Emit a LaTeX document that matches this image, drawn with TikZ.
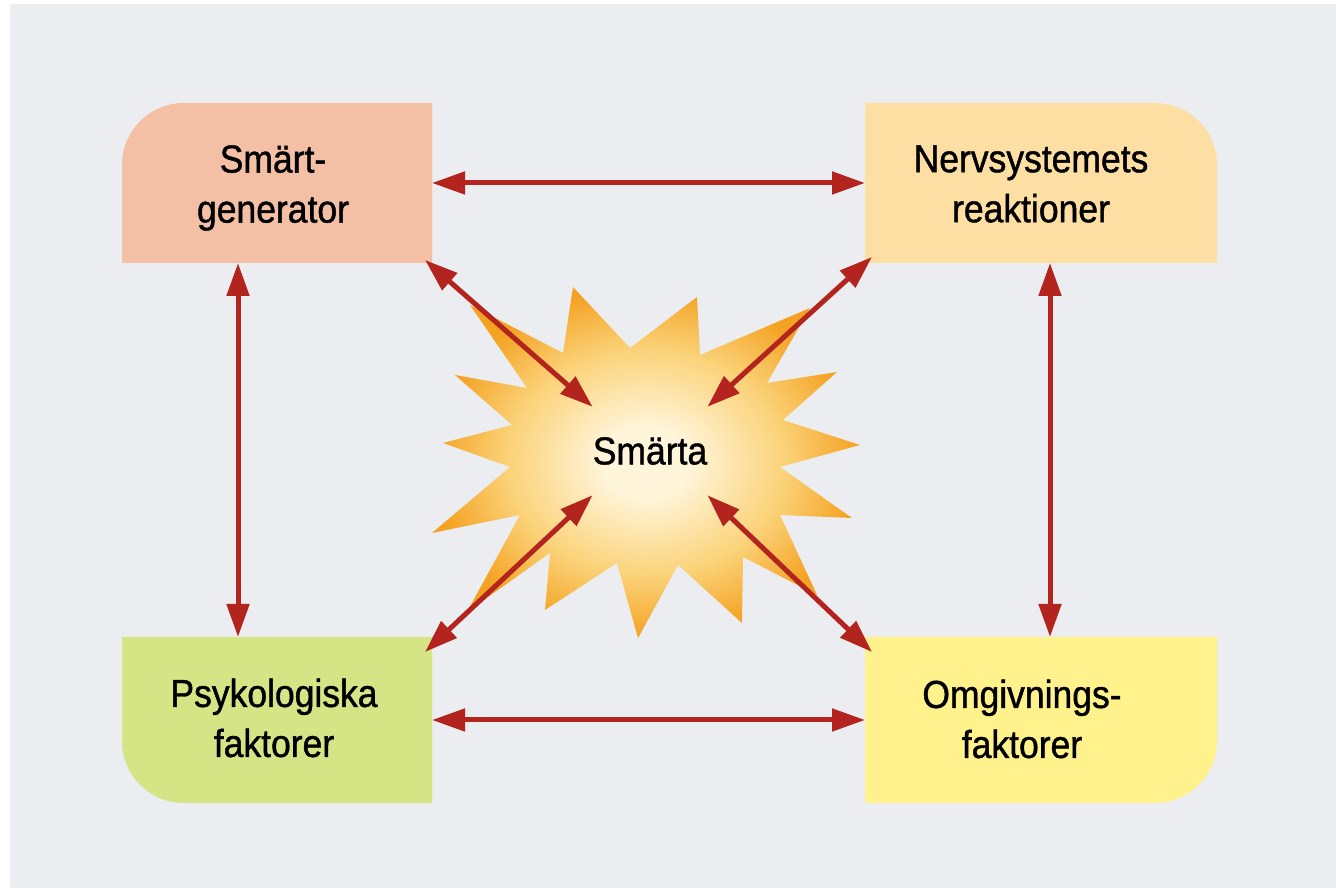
\documentclass[tikz,border=0pt]{standalone}
\usepackage{fontspec}
\setmainfont{Liberation Sans}[FakeStretch=0.91,FakeBold=1.1]
\usepackage{xcolor}
\usepackage{tikz}
\usetikzlibrary{arrows.meta}
\definecolor{bggray}{HTML}{ECEDF0}
\definecolor{arrowred}{HTML}{B3241F}
\definecolor{genpeach}{HTML}{F3BFA5}
\definecolor{nervsand}{HTML}{FDDFA3}
\definecolor{psygreen}{HTML}{D5E585}
\definecolor{omgyellow}{HTML}{FFF28C}
\definecolor{starcream}{HTML}{FFF5DA}
\definecolor{starmid}{HTML}{FBD37A}
\definecolor{starorange}{HTML}{F4A222}
\pgfdeclareradialshading{starglow}{\pgfpoint{0bp}{0bp}}{color(0bp)=(starcream); color(5bp)=(starcream); color(16bp)=(starmid); color(25bp)=(starorange); color(50bp)=(starorange)}
\tikzset{
  area/.style={rectangle,inner sep=0pt,outer sep=0pt},
  boxtext/.style={align=center,font=\fontsize{39}{50}\selectfont,text=black,inner sep=0pt},
  link/.style={{Triangle[length=33pt,width=22pt]}-{Triangle[length=33pt,width=22pt]},line width=5pt,draw=arrowred}
}
\begin{document}
\begin{tikzpicture}[x=1pt,y=1pt]
  \useasboundingbox (0,0) rectangle (1336,893);
  \fill[white] (0,0) rectangle (1336,893);
  \fill[bggray] (10,5) rectangle (1336,889);
  \shade[shading=starglow] (573,606) -- (630,545) -- (697,596) -- (700,538) -- (810,585) -- (767,510)
    -- (837,521) -- (783,473) -- (860,448) -- (780,426) -- (852,375) -- (780,378) -- (817,298)
    -- (743,336) -- (742,270) -- (678,328) -- (638,255) -- (617,330) -- (545,283) -- (550,340)
    -- (467,281) -- (520,378) -- (432,360) -- (510,426) -- (443,450) -- (512,468) -- (455,518)
    -- (527,505) -- (470,588) -- (563,540) -- cycle;
  \node[area,minimum width=310pt,minimum height=160pt] (gen) at (277,710) {};
  \node[area,minimum width=352pt,minimum height=160pt] (nerv) at (1041,710) {};
  \node[area,minimum width=310pt,minimum height=166pt] (psy) at (277,173) {};
  \node[area,minimum width=352pt,minimum height=166pt] (omg) at (1041,173) {};
  \fill[genpeach] (gen.south east) -- (gen.south west) -- ([yshift=-62pt]gen.north west)
    arc[start angle=180,end angle=90,radius=62pt] -- (gen.north east) -- cycle;
  \fill[nervsand] (nerv.south west) -- (nerv.north west) -- ([xshift=-62pt]nerv.north east)
    arc[start angle=90,end angle=0,radius=62pt] -- (nerv.south east) -- cycle;
  \fill[psygreen] (psy.north east) -- (psy.north west) -- ([yshift=62pt]psy.south west)
    arc[start angle=180,end angle=270,radius=62pt] -- (psy.south east) -- cycle;
  \fill[omgyellow] (omg.north west) -- (omg.north east) -- ([yshift=62pt]omg.south east)
    arc[start angle=0,end angle=-90,radius=62pt] -- (omg.south west) -- cycle;
  \node[boxtext,minimum width=114pt,minimum height=88pt] (pain) at (650,442) {Smärta};
  \draw[link] (gen) -- (nerv);
  \draw[link] (psy) -- (omg);
  \draw[link] ([xshift=-39pt]gen.south) -- ([xshift=-39pt]psy.north);
  \draw[link] ([xshift=9pt]nerv.south) -- ([xshift=9pt]omg.north);
  \draw[link] ([shift={(-7,3)}]gen.south east) -- (pain.north west);
  \draw[link] ([shift={(7,6)}]nerv.south west) -- (pain.north east);
  \draw[link] ([shift={(-7,-15)}]psy.north east) -- (pain.south west);
  \draw[link] ([shift={(7,-15)}]omg.north west) -- (pain.south east);
  \node[boxtext] (gentext) at (273,705) {Smärt-\\generator};
  \node[boxtext] (nervtext) at (1031,709) {Nervsystemets\\reaktioner};
  \node[boxtext] (psytext) at (274,175) {Psykologiska\\faktorer};
  \node[boxtext] (omgtext) at (1022,174) {Omgivnings-\\faktorer};
\end{tikzpicture}
\end{document}
